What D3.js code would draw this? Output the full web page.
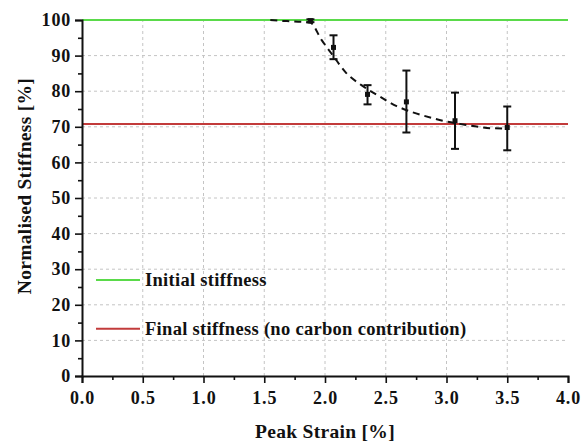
<!DOCTYPE html>
<html>
<head>
<meta charset="utf-8">
<script src="https://cdn.jsdelivr.net/npm/d3@7"></script>
<style>
  html, body { margin: 0; padding: 0; background: #fff; }
</style>
</head>
<body>
<svg id="chart" width="581" height="446"></svg>
<script>
// Measured stiffness (mean with error range) against peak strain
const strain    = [1.88, 2.07, 2.35, 2.67, 3.07, 3.50];
const stiffness = [99.8, 92.3, 79.1, 77.0, 71.7, 69.8];
const errLow    = [99.4, 89.0, 76.3, 68.4, 63.8, 63.4];
const errHigh   = [100.2, 95.7, 81.7, 85.8, 79.6, 75.7];

// Fitted trend curve (dashed)
const fitX = [1.55, 1.62, 1.75, 1.88, 1.97, 2.07, 2.17, 2.30, 2.45, 2.59, 2.71, 2.89, 3.01, 3.15, 3.26, 3.37, 3.50];
const fitY = [100.0, 99.8, 99.6, 99.2, 94.5, 89.8, 85.3, 81.7, 78.5, 75.8, 74.2, 72.4, 71.4, 70.6, 70.0, 69.6, 69.5];

// Reference levels
const initialStiffness = 100;
const finalStiffness = 70.8;

const xTicks = [0, 0.5, 1.0, 1.5, 2.0, 2.5, 3.0, 3.5, 4.0];
const yTicks = [0, 10, 20, 30, 40, 50, 60, 70, 80, 90, 100];

const legendLabels = ["Initial stiffness", "Final stiffness (no carbon contribution)"];
const legendLevels = [27, 13.3];

const FONT = "Liberation Serif";
const INK = "#111";

const svg = d3.select("#chart");
const mLeft = 82, mRight = 568, mTop = 20, mBottom = 376;

const x = d3.scaleLinear().domain([0, 4]).range([mLeft, mRight]);
const y = d3.scaleLinear().domain([0, 100]).range([mBottom, mTop]);

function styleText(sel, size) {
  sel.attr("font-family", FONT).attr("font-weight", "bold").attr("font-size", size)
    .style("font-family", `"${FONT}"`).style("font-weight", "bold").style("font-size", size + "px").style("fill", INK);
}

// Grid
const grid = svg.append("g").attr("stroke", "#c4c4c4").attr("stroke-width", 1).attr("stroke-dasharray", "3,3");
grid.selectAll("line.v").data(xTicks.filter(d => d > 0 && d < 4)).join("line")
  .attr("x1", d => x(d)).attr("x2", d => x(d)).attr("y1", y(0)).attr("y2", y(100));
grid.selectAll("line.h").data(yTicks.filter(d => d > 0 && d < 100)).join("line")
  .attr("y1", d => y(d)).attr("y2", d => y(d)).attr("x1", x(0)).attr("x2", x(4));

// Reference lines
svg.append("line").attr("x1", x(0)).attr("x2", x(4)).attr("y1", y(initialStiffness)).attr("y2", y(initialStiffness))
  .attr("stroke", "#5ada4a").attr("stroke-width", 2);
svg.append("line").attr("x1", x(0)).attr("x2", x(4)).attr("y1", y(finalStiffness)).attr("y2", y(finalStiffness))
  .attr("stroke", "#c23b3b").attr("stroke-width", 2);

// Fitted curve
const fit = fitX.map((v, i) => [v, fitY[i]]);
svg.append("path").datum(fit)
  .attr("d", d3.line().x(d => x(d[0])).y(d => y(d[1])).curve(d3.curveMonotoneX))
  .attr("fill", "none").attr("stroke", INK).attr("stroke-width", 2).attr("stroke-dasharray", "7,5");

// Error bars and means
const pts = strain.map((v, i) => ({ x: v, y: stiffness[i], lo: errLow[i], hi: errHigh[i] }));
const eb = svg.append("g").attr("stroke", INK).attr("stroke-width", 2);
eb.selectAll("line.bar").data(pts).join("line")
  .attr("x1", d => x(d.x)).attr("x2", d => x(d.x)).attr("y1", d => y(d.lo)).attr("y2", d => y(d.hi));
eb.selectAll("line.top").data(pts).join("line")
  .attr("x1", d => x(d.x) - 4).attr("x2", d => x(d.x) + 4).attr("y1", d => y(d.hi)).attr("y2", d => y(d.hi));
eb.selectAll("line.bot").data(pts).join("line")
  .attr("x1", d => x(d.x) - 4).attr("x2", d => x(d.x) + 4).attr("y1", d => y(d.lo)).attr("y2", d => y(d.lo));
svg.append("g").selectAll("rect").data(pts).join("rect")
  .attr("x", d => x(d.x) - 2.5).attr("y", d => y(d.y) - 2.5).attr("width", 5).attr("height", 5).attr("fill", INK);

// Axes
const xAxis = svg.append("g").attr("transform", `translate(0,${mBottom})`)
  .call(d3.axisBottom(x).tickValues(xTicks).tickFormat(d3.format(".1f")).tickSize(7).tickPadding(8));
const xMinor = svg.append("g").attr("transform", `translate(0,${mBottom})`)
  .call(d3.axisBottom(x).tickValues(d3.range(0.25, 4, 0.5)).tickFormat("").tickSize(4));
const yAxis = svg.append("g").attr("transform", `translate(${mLeft},0)`)
  .call(d3.axisLeft(y).tickValues(yTicks).tickSize(7).tickPadding(4));
const yMinor = svg.append("g").attr("transform", `translate(${mLeft},0)`)
  .call(d3.axisLeft(y).tickValues(d3.range(5, 100, 10)).tickFormat("").tickSize(4));

[xAxis, xMinor, yAxis, yMinor].forEach(g => {
  g.attr("font-family", FONT);
  g.select(".domain").attr("stroke", INK).attr("stroke-width", 2);
  g.selectAll(".tick line").attr("stroke", INK).attr("stroke-width", 1.6);
  g.selectAll(".tick text").call(styleText, 18).attr("letter-spacing", 0.8);
});
xMinor.select(".domain").remove();
yMinor.select(".domain").remove();

// Axis titles
svg.append("text").attr("x", 325).attr("y", 438).attr("text-anchor", "middle")
  .call(styleText, 19.5).attr("letter-spacing", 0.3).text("Peak Strain [%]");
svg.append("text").attr("transform", `translate(31,186) rotate(-90)`)
  .attr("text-anchor", "middle").call(styleText, 19.5).attr("letter-spacing", 0.3).text("Normalised Stiffness [%]");

// Legend
const legColors = ["#5ada4a", "#c23b3b"];
const leg = svg.append("g");
legendLabels.forEach((label, i) => {
  const ly = y(legendLevels[i]);
  leg.append("line").attr("x1", 96).attr("x2", 140).attr("y1", ly).attr("y2", ly)
    .attr("stroke", legColors[i]).attr("stroke-width", 2);
  leg.append("text").attr("x", 145).attr("y", ly + 6).call(styleText, 18.5).attr("letter-spacing", 0.3).text(label);
});
</script>
</body>
</html>
